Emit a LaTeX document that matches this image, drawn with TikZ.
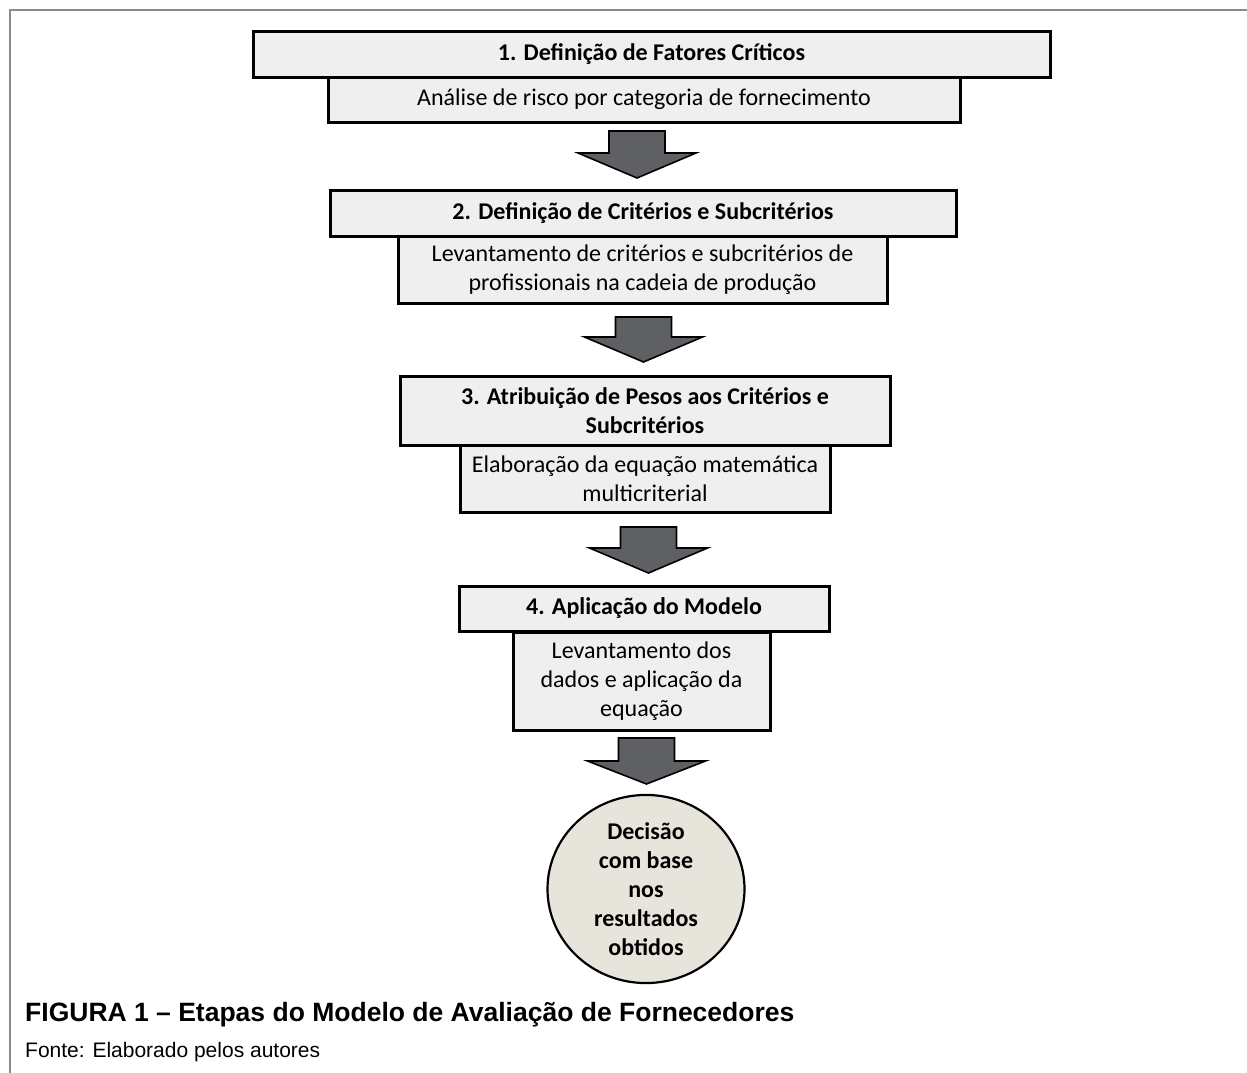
\documentclass[tikz,border=0pt]{standalone}
\usepackage{fontspec}
\setmainfont{Carlito}
\newfontfamily\capfont{Liberation Sans}
\usetikzlibrary{shapes.geometric}
\definecolor{boxfill}{RGB}{238,239,238}
\definecolor{ellfill}{RGB}{231,229,219}
\definecolor{arrfill}{RGB}{95,96,99}
\definecolor{framegray}{RGB}{140,140,140}
\newcommand\blockarr[5]{% name, cx, top, shoulder, tip
  \draw[blockarrow] (#2-28,#3) -- (#2+28,#3) -- (#2+28,#4) -- (#2+59,#4)
    -- (#2,#5) coordinate (#1) -- (#2-59,#4) -- (#2-28,#4) -- cycle;}
\begin{document}
\begin{tikzpicture}[x=1pt,y=-1pt,
  stepbox/.style={draw=black, line width=3pt, fill=boxfill, inner sep=0pt,
    outer sep=0pt, align=center, font=\fontsize{24pt}{29pt}\selectfont},
  headbox/.style={stepbox, font=\fontsize{24pt}{29pt}\selectfont\bfseries},
  blockarrow/.style={draw=black, line width=1.6pt, fill=arrfill, line join=miter},
  endell/.style={ellipse, draw=black, line width=2.2pt, fill=ellfill, inner sep=0pt,
    align=center, font=\fontsize{24pt}{29pt}\selectfont\bfseries}]
\useasboundingbox (0,0) rectangle (1247,1073);
\fill[white] (0,0) rectangle (1247,1073);
\draw[framegray, line width=1.5pt] (10,1073) -- (10,10) -- (1247,10);

% step 1
\node[headbox, minimum width=797pt, minimum height=45pt] (h1) at (651.5,54.5) {1. Definição de Fatores Críticos};
\node[stepbox, minimum width=632pt, minimum height=45pt] (s1) at (644,99.5) {Análise de risco por categoria de fornecimento};
\blockarr{t1}{637}{131}{153}{178}

% step 2
\node[headbox, minimum width=626pt, minimum height=46pt] (h2) at (643,213) {2. Definição de Critérios e Subcritérios};
\node[stepbox, minimum width=489pt, minimum height=67pt] (s2) at (642.5,269.5) {Levantamento de critérios e subcritérios de\\profissionais na cadeia de produção};
\blockarr{t2}{643.5}{317}{337}{362}

% step 3
\node[headbox, minimum width=490pt, minimum height=69pt] (h3) at (645,410.5) {3. Atribuição de Pesos aos Critérios e\\Subcritérios};
\node[stepbox, minimum width=370pt, minimum height=67pt] (s3) at (645,478.5) {Elaboração da equação matemática\\multicriterial};
\blockarr{t3}{648.5}{527}{548}{573}

% step 4
\node[headbox, minimum width=370pt, minimum height=45pt] (h4) at (644,608.5) {4. Aplicação do Modelo};
\node[stepbox, minimum width=257pt, minimum height=98pt] (s4) at (641.5,681) {Levantamento dos\\dados e aplicação da\\equação};
\blockarr{t4}{646.5}{738}{761}{784}

% decision
\node[endell, minimum width=197pt, minimum height=181pt] (dec) at (646,889) {Decisão\\com base\\nos\\resultados\\obtidos};

% caption
\node[anchor=base west, inner sep=0pt, font=\capfont\bfseries\fontsize{26.5pt}{30pt}\selectfont] (cap) at (25,1021) {FIGURA 1 – Etapas do Modelo de Avaliação de Fornecedores};
\node[anchor=base west, inner sep=0pt, font=\capfont\fontsize{21pt}{24pt}\selectfont] (src) at (25,1057) {Fonte: Elaborado pelos autores};
\end{tikzpicture}
\end{document}
